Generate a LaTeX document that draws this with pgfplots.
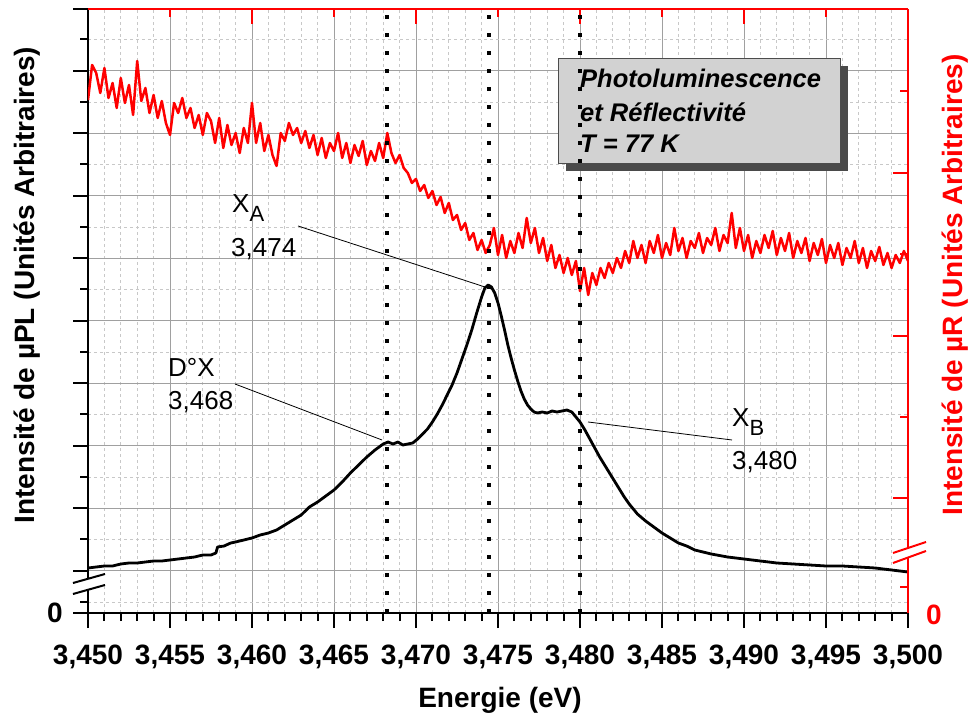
\documentclass[border=0pt]{standalone}
\usepackage{pgfplots}
\pgfplotsset{compat=1.18}
\usepackage{pgfplotstable}
\usepackage{fontspec}
\setmainfont{Liberation Sans}
\definecolor{gridmaj}{HTML}{A0A0A0}
\definecolor{gridmin}{HTML}{C8C8C8}
\definecolor{boxgray}{HTML}{D2D2D2}
\definecolor{shadowgray}{HTML}{4A4A4A}
\newcommand\bigbf{\fontsize{28}{33}\selectfont\bfseries}
\newcommand\annot{\fontsize{26}{30}\selectfont}

\pgfplotstableread{
x v
3.4500 45
3.4505 46
3.4510 47
3.4515 47
3.4520 49
3.4525 50
3.4530 50
3.4535 51
3.4540 52
3.4545 52
3.4550 53
3.4555 54
3.4560 55
3.4565 56
3.4570 58
3.4575 58
3.4578 60
3.4579 66
3.4583 67
3.4587 70
3.4590 71
3.4595 73
3.4600 75
3.4605 78
3.4610 80
3.4615 83
3.4620 88
3.4625 93
3.4630 98
3.4635 106
3.4640 111
3.4645 117
3.4650 123
3.4655 131
3.4660 140
3.4665 148
3.4670 156
3.4675 163
3.4680 169
3.4683 171
3.4686 169
3.4689 171
3.4692 168
3.4695 169
3.4698 170
3.4701 174
3.4704 179
3.4707 184
3.4710 191
3.4713 199
3.4716 208
3.4719 218
3.4722 228
3.4725 240
3.4728 254
3.4731 268
3.4734 283
3.4737 300
3.4740 316
3.4742 325
3.4744 328
3.4746 326
3.4748 320
3.4750 310
3.4752 297
3.4754 283
3.4756 268
3.4758 255
3.4760 243
3.4762 232
3.4764 222
3.4766 214
3.4768 208
3.4770 204
3.4772 201
3.4774 200
3.4777 201
3.4780 200
3.4783 202
3.4786 201
3.4789 202
3.4792 203
3.4795 201
3.4797 197
3.4800 191
3.4803 183
3.4806 174
3.4809 165
3.4812 156
3.4815 148
3.4818 140
3.4821 132
3.4824 124
3.4827 116
3.4830 109
3.4835 99
3.4840 92
3.4845 86
3.4850 80
3.4855 75
3.4860 70
3.4865 67
3.4870 63
3.4875 61
3.4880 59
3.4890 56
3.4900 54
3.4910 52
3.4920 50
3.4930 49
3.4940 48
3.4950 47
3.4960 47
3.4970 46
3.4980 45
3.4990 43
3.5000 41
}\pltable

\pgfplotstableread{
x v
3.45000 513
3.45025 548
3.45050 540
3.45075 520
3.45100 545
3.45125 515
3.45150 530
3.45175 505
3.45200 535
3.45225 510
3.45250 528
3.45275 498
3.45300 552
3.45325 512
3.45350 525
3.45375 500
3.45400 518
3.45425 495
3.45450 512
3.45475 490
3.45500 478
3.45525 510
3.45550 500
3.45575 515
3.45600 495
3.45625 505
3.45650 485
3.45675 498
3.45700 478
3.45725 500
3.45750 492
3.45775 470
3.45800 495
3.45825 465
3.45850 488
3.45875 468
3.45900 480
3.45925 460
3.45950 485
3.45975 470
3.46000 510
3.46025 470
3.46050 490
3.46075 462
3.46100 478
3.46125 458
3.46150 447
3.46175 480
3.46200 472
3.46225 490
3.46250 478
3.46275 485
3.46300 470
3.46325 482
3.46350 465
3.46375 478
3.46400 458
3.46425 475
3.46450 455
3.46475 470
3.46500 462
3.46525 480
3.46550 455
3.46575 470
3.46600 450
3.46625 468
3.46650 457
3.46675 472
3.46700 448
3.46725 462
3.46750 452
3.46775 470
3.46800 455
3.46825 480
3.46850 460
3.46875 450
3.46900 458
3.46925 445
3.46950 440
3.46975 430
3.47000 434
3.47025 422
3.47050 428
3.47075 415
3.47100 422
3.47125 408
3.47150 416
3.47175 400
3.47200 410
3.47225 393
3.47250 398
3.47275 383
3.47300 390
3.47325 373
3.47350 380
3.47375 363
3.47400 373
3.47425 360
3.47450 368
3.47475 385
3.47500 358
3.47525 378
3.47550 355
3.47575 372
3.47600 360
3.47625 380
3.47650 365
3.47675 395
3.47700 370
3.47725 385
3.47750 360
3.47775 375
3.47800 352
3.47825 368
3.47850 345
3.47875 358
3.47900 340
3.47925 355
3.47950 338
3.47975 352
3.48000 322
3.48025 345
3.48050 318
3.48075 340
3.48100 328
3.48125 345
3.48150 335
3.48175 350
3.48200 340
3.48225 355
3.48250 345
3.48275 362
3.48300 350
3.48325 372
3.48350 355
3.48375 368
3.48400 350
3.48425 372
3.48450 360
3.48475 378
3.48500 355
3.48525 370
3.48550 358
3.48575 385
3.48600 362
3.48625 375
3.48650 355
3.48675 372
3.48700 365
3.48725 380
3.48750 360
3.48775 375
3.48800 368
3.48825 385
3.48850 362
3.48875 378
3.48900 370
3.48925 400
3.48950 365
3.48975 385
3.49000 362
3.49025 378
3.49050 355
3.49075 372
3.49100 360
3.49125 378
3.49150 365
3.49175 382
3.49200 358
3.49225 375
3.49250 362
3.49275 380
3.49300 355
3.49325 372
3.49350 360
3.49375 375
3.49400 352
3.49425 370
3.49450 358
3.49475 374
3.49500 350
3.49525 368
3.49550 355
3.49575 370
3.49600 348
3.49625 365
3.49650 355
3.49675 372
3.49700 350
3.49725 365
3.49750 345
3.49775 362
3.49800 352
3.49825 366
3.49850 348
3.49875 360
3.49900 345
3.49925 358
3.49950 350
3.49975 362
3.50000 352
}\refltable

\begin{document}
\begin{tikzpicture}
\pgfplotsset{
  base/.style={
    scale only axis, width=820pt, height=604pt,
    xmin=3.45, xmax=3.50, ymin=0, ymax=604,
    at={(0pt,0pt)}, anchor=south west,
    major tick length=15pt, minor tick length=8pt,
  }
}
\begin{axis}[base,
  axis x line*=bottom, axis y line*=left,
  axis line style={black, line width=2.5pt},
  tick align=outside,
  tick style={black, line width=2pt},
  xtick={3.450,3.455,3.460,3.465,3.470,3.475,3.480,3.485,3.490,3.495,3.500},
  xticklabels={{3,450},{3,455},{3,460},{3,465},{3,470},{3,475},{3,480},{3,485},{3,490},{3,495},{3,500}},
  xticklabel style={font=\bigbf, yshift=-13pt},
  minor x tick num=4,
  ytick={0,42,104.5,167,229.5,292,354.5,417,479.5,542,604},
  yticklabels={},
  minor ytick={11,73.5,136,198.5,261,323.5,386,448.5,511,573.5},
  grid=both,
  major grid style={gridmaj, line width=1pt},
  minor grid style={gridmin, line width=0.8pt, dash pattern=on 3pt off 3pt},
]
\addplot[black, line width=2.8pt, line join=round] table[x=x,y=v]{\pltable};
\addplot[red, line width=2.5pt, line join=round] table[x=x,y=v]{\refltable};
\end{axis}

% text box
\fill[shadowgray] (478pt,442pt) rectangle (760pt,547pt);
\filldraw[fill=boxgray, draw=gray!60!black, line width=0.8pt] (470pt,450pt) rectangle (752pt,555pt);
\begin{scope}[every node/.style={anchor=base west, inner sep=0pt, font=\fontsize{25.5}{30}\selectfont\bfseries\itshape}]
\node at (492pt,525pt) {Photoluminescence};
\node at (492pt,491pt) {et Réflectivité};
\node at (492pt,460pt) {T = 77 K};
\end{scope}

\begin{axis}[base,
  axis x line*=top, axis y line*=right,
  axis line style={red, line width=2.5pt},
  tick align=inside,
  tick style={red, line width=2pt},
  xtick={3.46,3.47,3.48,3.49}, xticklabels={},
  minor xtick={3.455,3.465,3.475,3.485,3.495},
  ytick={115,277,440.3}, yticklabels={},
  minor ytick={26,196,359,522},
]
\addplot[black, line width=3.5pt, dash pattern=on 4pt off 14pt] coordinates {(3.46823,0) (3.46823,604)};
\addplot[black, line width=3.5pt, dash pattern=on 4pt off 14pt] coordinates {(3.47445,0) (3.47445,604)};
\addplot[black, line width=3.5pt, dash pattern=on 4pt off 14pt] coordinates {(3.48000,0) (3.48000,604)};
\end{axis}

% annotations
\begin{scope}[every node/.style={anchor=base west, inner sep=0pt, font=\annot}]
\node at (144pt,400pt) {X\raisebox{-9pt}{\fontsize{22}{26}\selectfont A}};
\node at (143pt,356pt) {3,474};
\node at (80pt,236pt) {D°X};
\node at (80pt,203pt) {3,468};
\node at (644pt,186pt) {X\raisebox{-9pt}{\fontsize{22}{26}\selectfont B}};
\node at (644pt,143pt) {3,480};
\end{scope}
\draw[black, line width=0.8pt] (210pt,387pt) -- (397pt,326pt);
\draw[black, line width=0.8pt] (147pt,229pt) -- (294pt,173pt);
\draw[black, line width=0.8pt] (500pt,191pt) -- (644pt,173pt);

% axis breaks
\fill[white] (-15pt,30pt) -- (17pt,39pt) -- (17pt,28pt) -- (-15pt,19pt) -- cycle;
\draw[black, line width=2pt] (-15pt,30pt) -- (17pt,39pt);
\draw[black, line width=2pt] (-15pt,19pt) -- (17pt,28pt);
\fill[white] (805pt,60pt) -- (838pt,71pt) -- (838pt,62pt) -- (805pt,50pt) -- cycle;
\draw[red, line width=2pt] (805pt,60pt) -- (838pt,71pt);
\draw[red, line width=2pt] (805pt,50pt) -- (838pt,62pt);

% labels
\node[font=\bigbf] at (-33pt,0pt) {0};
\node[font=\bigbf, text=red] at (846pt,-2pt) {0};
\node[anchor=base, font=\bigbf] at (412pt,-94pt) {Energie (eV)};
\node[rotate=90, font=\bigbf] at (-61pt,328pt) {Intensité de µPL (Unités Arbitraires)};
\node[rotate=90, font=\bigbf, text=red] at (867pt,328pt) {Intensité de µR (Unités Arbitraires)};

\pgfresetboundingbox
\path[use as bounding box] (-88pt,-107pt) rectangle (884pt,613pt);
\end{tikzpicture}
\end{document}
